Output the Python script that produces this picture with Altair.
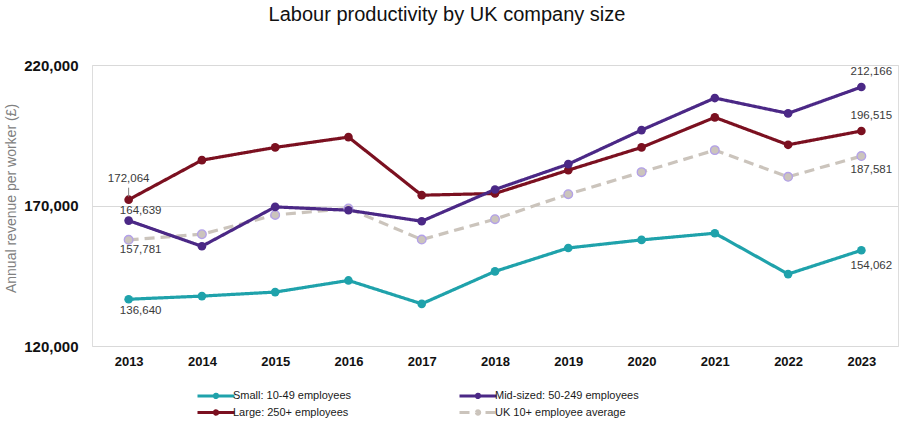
import altair as alt
import pandas as pd

# Labour productivity (annual revenue per worker, £) by company size
years = list(range(2013, 2024))
small = [136640, 137760, 139190, 143330, 135010, 146550, 154890, 157760, 160140, 145600, 154062]
mid_sized = [164639, 155490, 169500, 168320, 164400, 175700, 184720, 196840, 208240, 202780, 212166]
large = [172064, 186140, 190670, 194340, 173670, 174270, 182580, 190670, 201360, 191600, 196515]
uk_average = [157781, 159770, 166640, 168920, 157880, 165130, 174030, 181870, 189700, 180200, 187581]

SMALL = "Small: 10-49 employees"
MID = "Mid-sized: 50-249 employees"
LARGE = "Large: 250+ employees"
UK = "UK 10+ employee average"

legend_order = [SMALL, MID, LARGE, UK]
series_colors = ["#1fa2ab", "#4b2886", "#7b1020", "#cbc4bc"]
dash_styles = [[1, 0], [1, 0], [1, 0], [10, 6]]

# drawing order: average underneath, mid-sized on top
draw_order = [(UK, uk_average), (SMALL, small), (LARGE, large), (MID, mid_sized)]
rows = []
for name, vals in draw_order:
    for yr, v in zip(years, vals):
        rows.append({"year": yr, "value": v, "series": name})
df = pd.DataFrame(rows)

# pixel offsets of the end-point value labels
label_offsets = {
    (2013, LARGE): (0, -21), (2013, MID): (12, -10), (2013, UK): (12, 10), (2013, SMALL): (12, 12),
    (2023, MID): (10, -15), (2023, LARGE): (10, -15), (2023, UK): (10, 14), (2023, SMALL): (10, 16),
}
leader = df[(df["year"] == 2013) & (df["series"] == LARGE)]

FONT = "Liberation Sans"

# legend keys: a wide line with a dot, and a broken line with a dot for the average
line_path = "M-3.7,0H3.7M-0.34,0A0.34,0.34 0 1,0 0.34,0A0.34,0.34 0 1,0 -0.34,0"
dash_path = "M-3.7,0H-1.5M1.5,0H3.7M-0.34,0A0.34,0.34 0 1,0 0.34,0A0.34,0.34 0 1,0 -0.34,0"

x_enc = alt.X(
    "year:O",
    scale=alt.Scale(type="point", padding=0.5),
    axis=alt.Axis(title=None, labelAngle=0, labelFont=FONT, labelFontSize=13, labelFontWeight="bold",
                  labelColor="#111111", ticks=False, domain=False, grid=False, labelPadding=9),
)
y_enc = alt.Y(
    "value:Q",
    scale=alt.Scale(domain=[120000, 220000], nice=False, zero=False),
    axis=alt.Axis(values=[120000, 170000, 220000], format=",.0f", formatType="number",
                  labelFont=FONT, labelFontSize=15,
                  labelFontWeight="bold", labelColor="#111111", ticks=False, domain=False,
                  grid=True, gridColor="#d9d9d9", gridWidth=1.2, labelPadding=14,
                  title="Annual revenue per worker (£)", titleFont=FONT, titleFontSize=14,
                  titleFontWeight="normal", titleColor="#808080", titleX=-74, titleY=133,
                  titleAngle=-90, titleAlign="center", titleBaseline="bottom"),
)
legend = alt.Legend(
    title=None, orient="none", legendX=117.5, legendY=324, columns=2, direction="horizontal",
    labelFont=FONT, labelFontSize=11, labelColor="#1a1a1a", labelOffset=10.5, labelLimit=300,
    symbolSize=100, symbolStrokeWidth=3, columnPadding=102, rowPadding=0, symbolOpacity=1,
)
color_scale = alt.Scale(domain=legend_order, range=series_colors)
color_enc = alt.Color("series:N", scale=color_scale, legend=legend)

lines = alt.Chart(df).mark_line(strokeWidth=3.2).encode(
    x=x_enc, y=y_enc, color=color_enc,
    strokeDash=alt.StrokeDash("series:N", scale=alt.Scale(domain=legend_order, range=dash_styles), legend=None),
)
points = alt.Chart(df).mark_point(filled=True, size=75, opacity=1).encode(
    x=x_enc, y=y_enc, color=color_enc,
    stroke=alt.condition(alt.datum.series == UK, alt.value("#b3a1e8"), alt.value("transparent")),
    strokeWidth=alt.value(1.3),
)
# empty layer that only carries the legend key shapes
legend_keys = alt.Chart(df).transform_filter("false").mark_point(filled=False, opacity=1).encode(
    x=x_enc, y=y_enc, color=color_enc,
    shape=alt.Shape("series:N", scale=alt.Scale(domain=legend_order,
                                                range=[line_path, line_path, line_path, dash_path]),
                    legend=legend),
)
# value labels at the first and last year, each nudged off its point
value_labels = []
for (yr, name), (dx, dy) in label_offsets.items():
    sub = df[(df["year"] == yr) & (df["series"] == name)]
    value_labels.append(
        alt.Chart(sub).mark_text(font=FONT, fontSize=11.5, color="#3a3a3a", baseline="middle",
                                 dx=dx, dy=dy).encode(
            x=x_enc, y=y_enc, text=alt.Text("value:Q", format=",.0f"),
        )
    )
leader_line = alt.Chart(leader).mark_rule(color="#808080", strokeWidth=1, yOffset=-3, y2Offset=-12).encode(
    x=x_enc, y=y_enc, y2="value:Q",
)

chart = alt.layer(lines, points, legend_keys, leader_line, *value_labels).properties(
    width=806, height=281,
    title=alt.TitleParams("Labour productivity  by UK company size", font=FONT, fontSize=20,
                          fontWeight="normal", color="#111111", anchor="middle", dx=-48, dy=15,
                          baseline="alphabetic", offset=32),
    autosize=alt.AutoSizeParams(type="none"),
    padding={"left": 92, "top": 65, "right": 2, "bottom": 80},
).configure_view(stroke=None).configure(background="white")

chart.save("out.html", embed_options={"renderer": "svg", "actions": False})
